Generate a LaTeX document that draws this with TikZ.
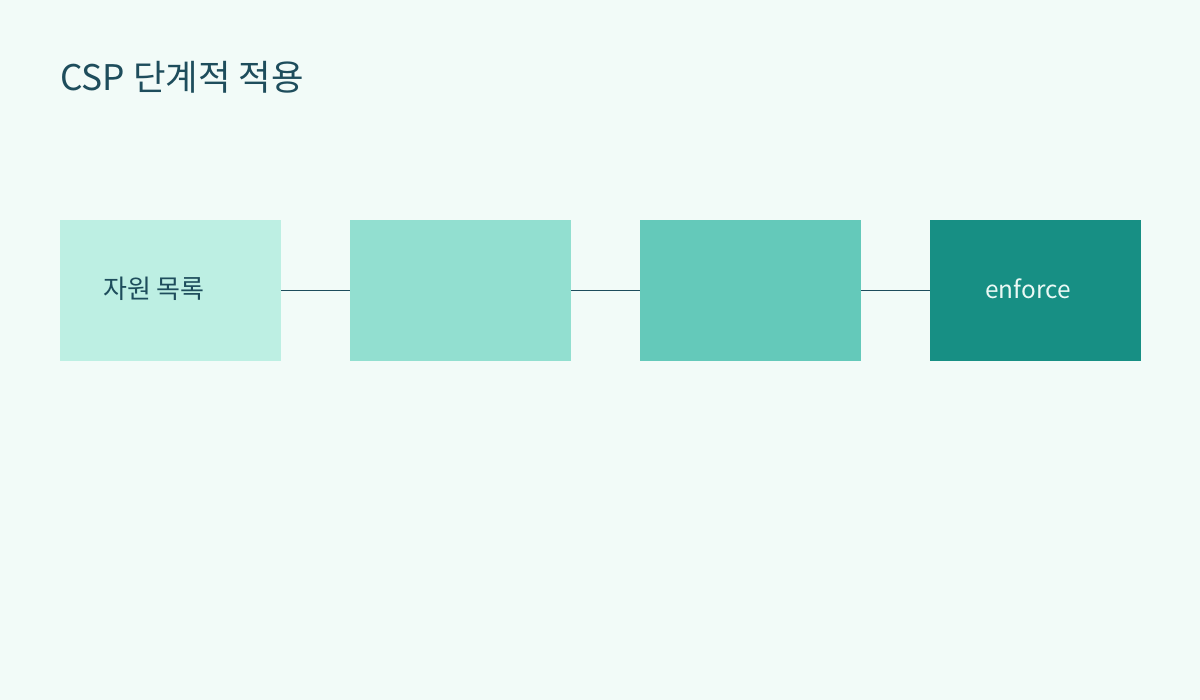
\documentclass[tikz,border=0pt]{standalone}
\usepackage{fontspec}
\setmainfont{Noto Sans CJK KR}
\definecolor{bg}{HTML}{F2FBF8}
\definecolor{c1}{HTML}{BDEFE3}
\definecolor{c2}{HTML}{92DFD0}
\definecolor{c3}{HTML}{64C9BA}
\definecolor{c4}{HTML}{178F84}
\definecolor{ink}{HTML}{1E4D5C}
\definecolor{light}{HTML}{EAF9F5}
\begin{document}
\begin{tikzpicture}[x=0.75pt,y=-0.75pt,
  stage/.style={draw=none,minimum width=165.75pt,minimum height=105.75pt,inner sep=0pt,outer sep=0pt},
  link/.style={draw=ink,line width=0.75pt}]
\fill[bg] (0,0) rectangle (1200,700);
\useasboundingbox (0,0) rectangle (1200,700);
\node[anchor=base west,inner sep=0pt,text=ink,font=\fontsize{26.5pt}{30pt}\selectfont] (title) at (60,90) {CSP 단계적 적용};
\node[stage,fill=c1] (s1) at (170.5,290.5) {};
\node[stage,fill=c2] (s2) at (460.5,290.5) {};
\node[stage,fill=c3] (s3) at (750.5,290.5) {};
\node[stage,fill=c4,minimum width=158.25pt] (s4) at (1035.5,290.5) {};
\draw[link] (s1.east) -- (s2.west);
\draw[link] (s2.east) -- (s3.west);
\draw[link] (s3.east) -- (s4.west);
\node[anchor=base west,inner sep=0pt,text=ink,font=\fontsize{19.5pt}{22pt}\selectfont] (t1) at (103,298) {자원 목록};
\node[anchor=base west,inner sep=0pt,text=light,font=\fontsize{18.3pt}{21pt}\selectfont] (t4) at (985,298) {enforce};
\end{tikzpicture}
\end{document}
